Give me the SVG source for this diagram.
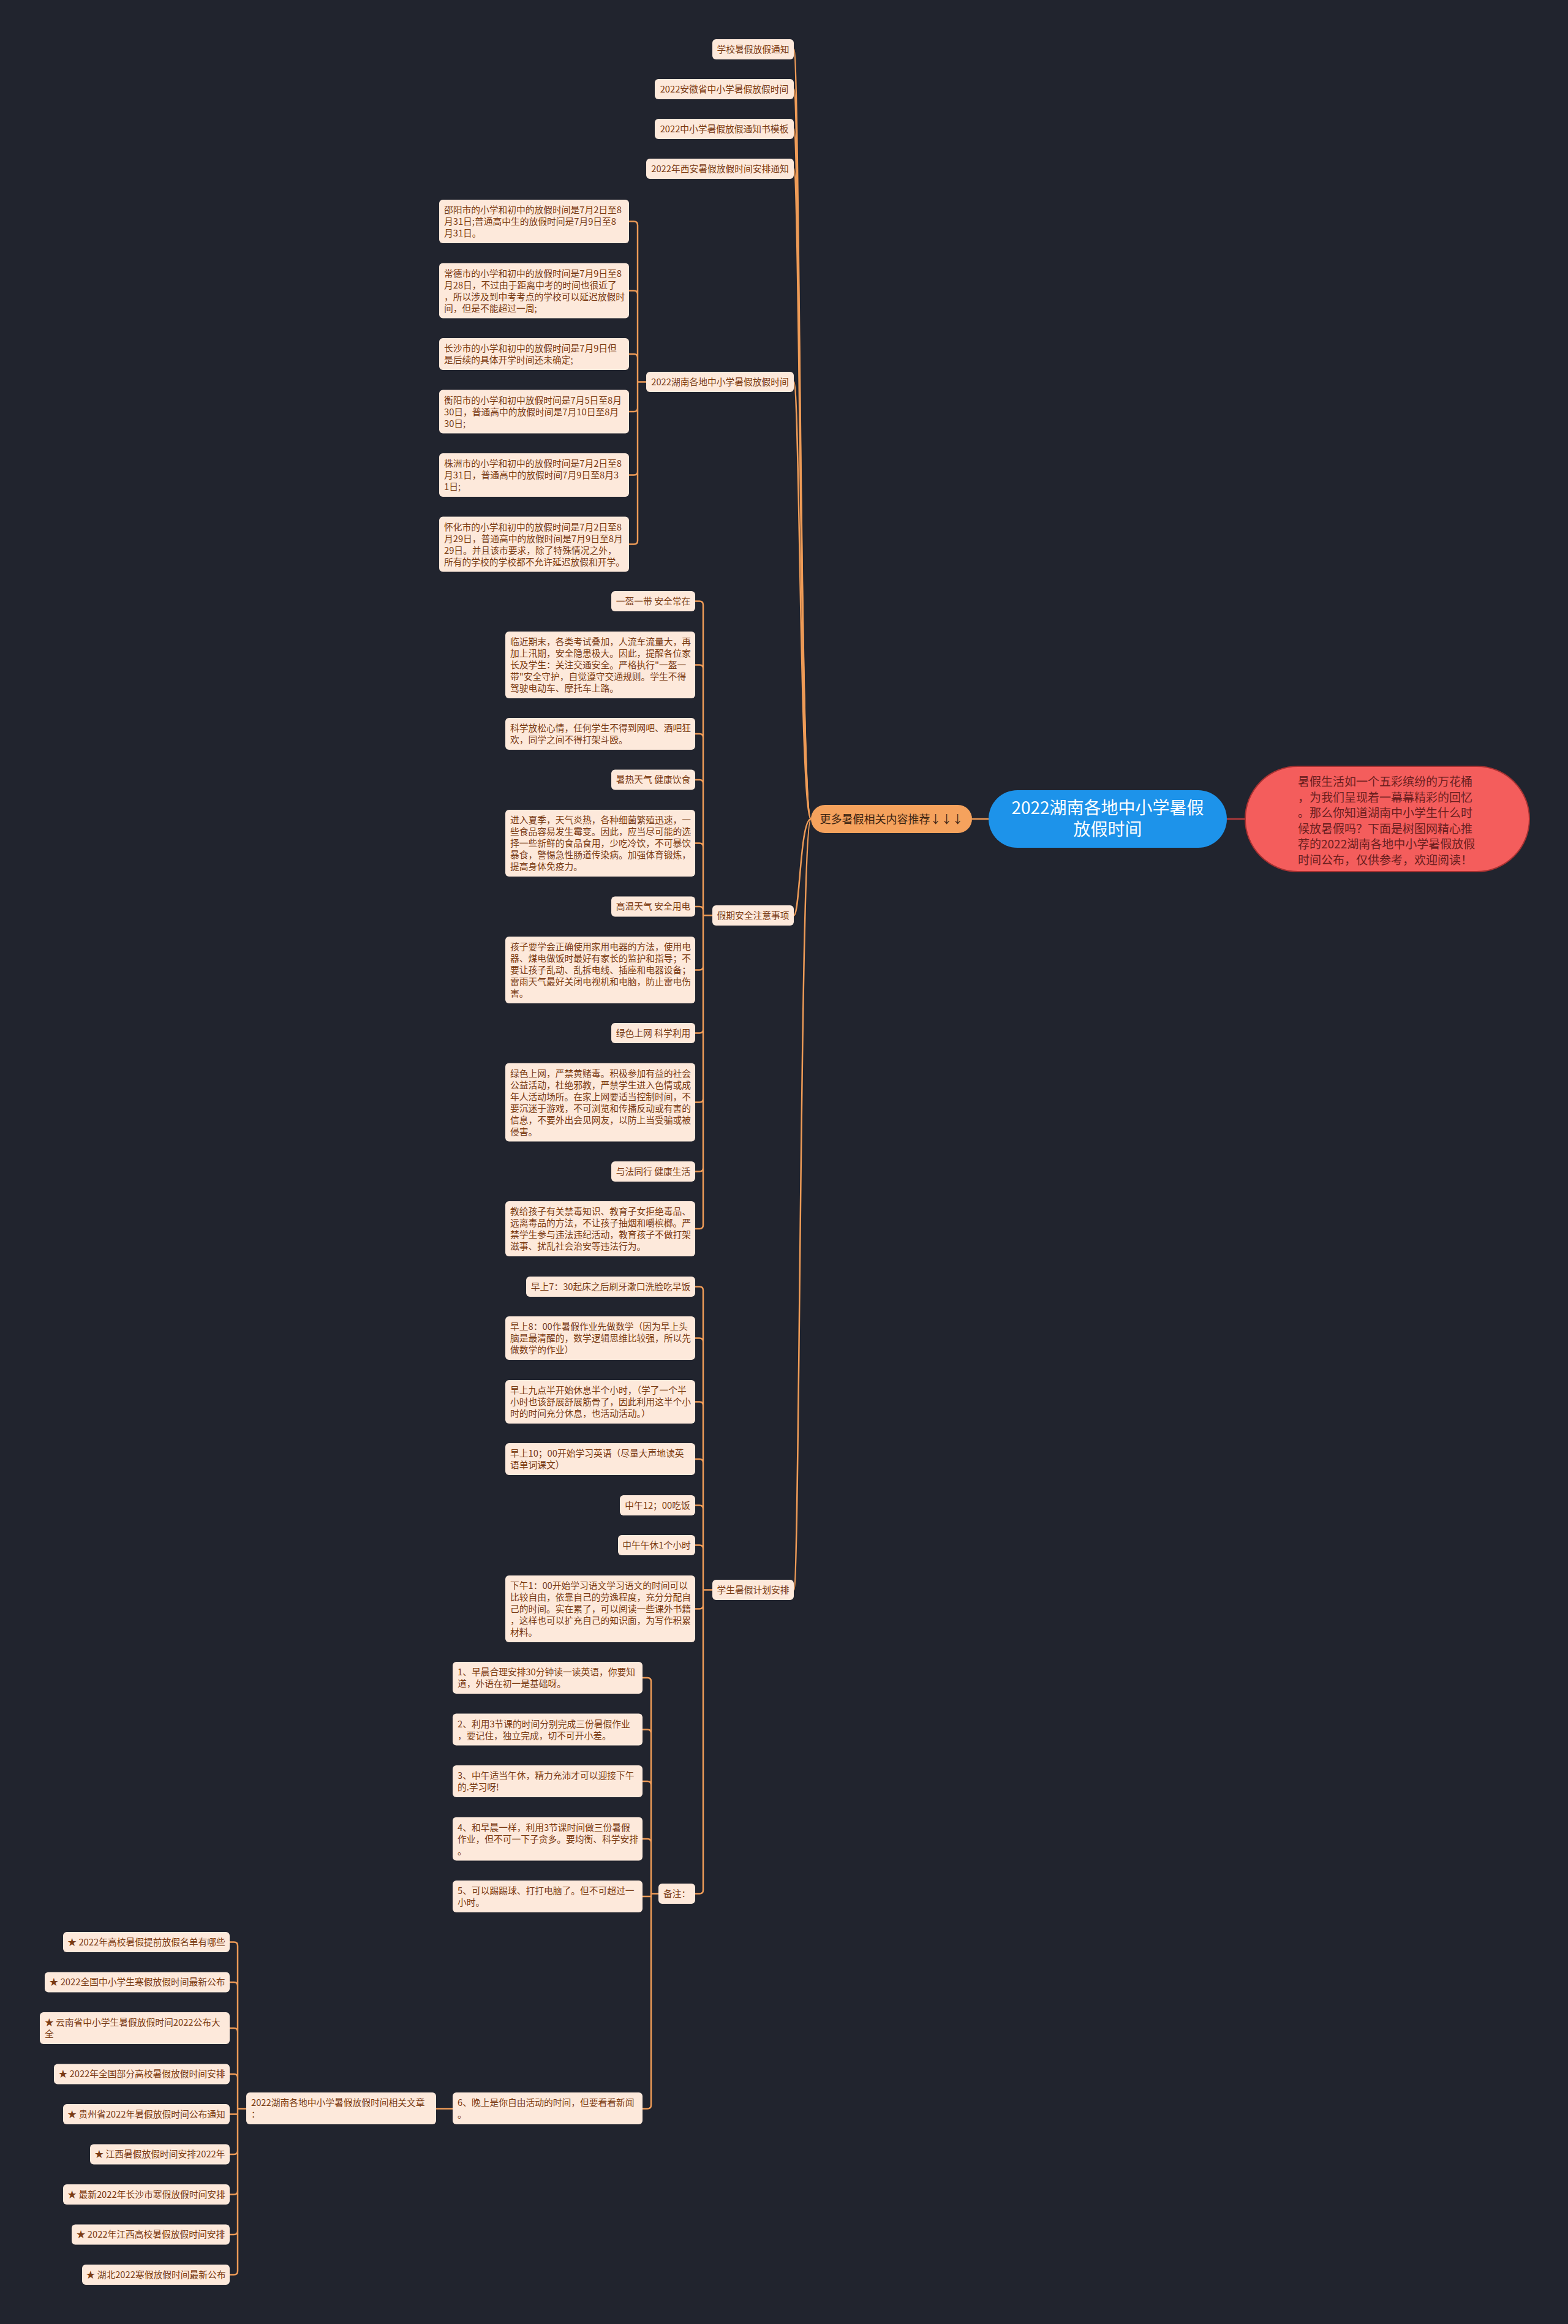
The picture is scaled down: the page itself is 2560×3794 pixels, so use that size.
<svg xmlns="http://www.w3.org/2000/svg" width="2560" height="3794" viewBox="0 0 2560 3794">
<style>
.bg{fill:#21242e}
.n rect{fill:#fde9db}
.t{font-family:"Noto Sans CJK SC","Noto Sans",sans-serif;font-size:14.75px;fill:#7a3a12}
.m{text-anchor:middle}
.c{fill:none;stroke:#ee9b57;stroke-width:2.5}
.cr{fill:none;stroke:#a8383a;stroke-width:3}
</style>
<rect class="bg" x="0" y="0" width="2560" height="3794"/>
<g id="connectors">
<path class="c" d="M1587 1337H1614"/>
<path class="cr" d="M2003 1337H2033"/>
<path class="c" d="M1324 1337C1306 1337 1306 80.5 1296 80.5"/>
<path class="c" d="M1324 1337C1306 1337 1306 145.5 1296 145.5"/>
<path class="c" d="M1324 1337C1306 1337 1306 210.5 1296 210.5"/>
<path class="c" d="M1324 1337C1306 1337 1306 275.5 1296 275.5"/>
<path class="c" d="M1324 1337C1306 1337 1306 623.5 1296 623.5"/>
<path class="c" d="M1324 1337C1306 1337 1306 1494.5 1296 1494.5"/>
<path class="c" d="M1324 1337C1306 1337 1306 2595.5 1296 2595.5"/>
<path class="c" d="M1027 361.5H1035Q1041 361.5 1041 367.5V623.5M1027 474.5H1035Q1041 474.5 1041 480.5V623.5M1027 578H1035Q1041 578 1041 584V623.5M1027 672H1035Q1041 672 1041 666V623.5M1027 775.5H1035Q1041 775.5 1041 769.5V623.5M1027 888.5H1035Q1041 888.5 1041 882.5V623.5M1041 623.5H1055"/>
<path class="c" d="M1135 981.5H1142Q1148 981.5 1148 987.5V1494.5M1135 1085.5H1142Q1148 1085.5 1148 1091.5V1494.5M1135 1198H1142Q1148 1198 1148 1204V1494.5M1135 1273H1142Q1148 1273 1148 1279V1494.5M1135 1376.5H1142Q1148 1376.5 1148 1382.5V1494.5M1135 1480H1142Q1148 1480 1148 1486V1494.5M1135 1583.5H1142Q1148 1583.5 1148 1577.5V1494.5M1135 1686.5H1142Q1148 1686.5 1148 1680.5V1494.5M1135 1799.5H1142Q1148 1799.5 1148 1793.5V1494.5M1135 1912.5H1142Q1148 1912.5 1148 1906.5V1494.5M1135 2006H1142Q1148 2006 1148 2000V1494.5M1148 1494.5H1163"/>
<path class="c" d="M1135 2100.5H1142Q1148 2100.5 1148 2106.5V2595.5M1135 2184.5H1142Q1148 2184.5 1148 2190.5V2595.5M1135 2288.5H1142Q1148 2288.5 1148 2294.5V2595.5M1135 2382H1142Q1148 2382 1148 2388V2595.5M1135 2457.5H1142Q1148 2457.5 1148 2463.5V2595.5M1135 2522.5H1142Q1148 2522.5 1148 2528.5V2595.5M1135 2626.5H1142Q1148 2626.5 1148 2620.5V2595.5M1135 3091.5H1142Q1148 3091.5 1148 3085.5V2595.5M1148 2595.5H1163"/>
<path class="c" d="M1049 2739H1057Q1063 2739 1063 2745V3091.5M1049 2823.5H1057Q1063 2823.5 1063 2829.5V3091.5M1049 2908H1057Q1063 2908 1063 2914V3091.5M1049 3002H1057Q1063 3002 1063 3008V3091.5M1049 3096H1063V3091.5M1049 3442.5H1057Q1063 3442.5 1063 3436.5V3091.5M1063 3091.5H1075"/>
<path class="c" d="M739 3442.5H712"/>
<path class="c" d="M375 3170.5H382Q388 3170.5 388 3176.5V3442.5M375 3236H382Q388 3236 388 3242V3442.5M375 3311H382Q388 3311 388 3317V3442.5M375 3386H382Q388 3386 388 3392V3442.5M375 3451.5H388V3442.5M375 3517H382Q388 3517 388 3511V3442.5M375 3582.5H382Q388 3582.5 388 3576.5V3442.5M375 3648H382Q388 3648 388 3642V3442.5M375 3713.5H382Q388 3713.5 388 3707.5V3442.5M388 3442.5H402"/>
</g>
<g id="root">
<rect x="1614" y="1290" width="389" height="94" rx="47" fill="#1d93ea"/>
<text x="1808.5" y="1329" text-anchor="middle" font-family="Noto Sans CJK SC, Noto Sans, sans-serif" font-size="28" fill="#ffffff">2022湖南各地中小学暑假</text>
<text x="1808.5" y="1364" text-anchor="middle" font-family="Noto Sans CJK SC, Noto Sans, sans-serif" font-size="28" fill="#ffffff">放假时间</text>
</g>
<g id="intro">
<rect x="2033" y="1251" width="464" height="172" rx="86" fill="#f45d5c" stroke="#a83232" stroke-width="2"/>
<text font-family="Noto Sans CJK SC, Noto Sans, sans-serif" font-size="19" fill="#6b1f1f"><tspan x="2119" y="1283">暑假生活如一个五彩缤纷的万花桶</tspan><tspan x="2119" dy="25.6">，为我们呈现着一幕幕精彩的回忆</tspan><tspan x="2119" dy="25.6">。那么你知道湖南中小学生什么时</tspan><tspan x="2119" dy="25.6">候放暑假吗？下面是树图网精心推</tspan><tspan x="2119" dy="25.6">荐的2022湖南各地中小学暑假放假</tspan><tspan x="2119" dy="25.6">时间公布，仅供参考，欢迎阅读！</tspan></text>
</g>
<g id="more">
<rect x="1324" y="1314" width="263" height="46" rx="23" fill="#f5a25d"/>
<text x="1455.5" y="1343.5" text-anchor="middle" font-family="Noto Sans CJK SC, Noto Sans, sans-serif" font-size="18" fill="#3b2412">更多暑假相关内容推荐↓↓↓</text>
</g>
<g id="n-school" class="n"><rect x="1163" y="64" width="133" height="33" rx="6"/><text class="t m" x="1229.5" y="85.5">学校暑假放假通知</text></g>
<g id="n-anhui" class="n"><rect x="1069" y="129" width="227" height="33" rx="6"/><text class="t m" x="1182.5" y="150.5">2022安徽省中小学暑假放假时间</text></g>
<g id="n-template" class="n"><rect x="1069" y="194" width="227" height="33" rx="6"/><text class="t m" x="1182.5" y="215.5">2022中小学暑假放假通知书模板</text></g>
<g id="n-xian" class="n"><rect x="1055" y="259" width="241" height="33" rx="6"/><text class="t m" x="1175.5" y="280.5">2022年西安暑假放假时间安排通知</text></g>
<g id="n-hunan" class="n"><rect x="1055" y="607" width="241" height="33" rx="6"/><text class="t m" x="1175.5" y="628.5">2022湖南各地中小学暑假放假时间</text></g>
<g id="h-shaoyang" class="n"><rect x="717" y="326" width="310" height="71" rx="6"/><text class="t"><tspan x="725" y="348">邵阳市的小学和初中的放假时间是7月2日至8</tspan><tspan x="725" dy="19">月31日;普通高中生的放假时间是7月9日至8</tspan><tspan x="725" dy="19">月31日。</tspan></text></g>
<g id="h-changde" class="n"><rect x="717" y="429.5" width="310" height="90" rx="6"/><text class="t"><tspan x="725" y="451.5">常德市的小学和初中的放假时间是7月9日至8</tspan><tspan x="725" dy="19">月28日，不过由于距离中考的时间也很近了</tspan><tspan x="725" dy="19">，所以涉及到中考考点的学校可以延迟放假时</tspan><tspan x="725" dy="19">间，但是不能超过一周;</tspan></text></g>
<g id="h-changsha" class="n"><rect x="717" y="552" width="310" height="52" rx="6"/><text class="t"><tspan x="725" y="574">长沙市的小学和初中的放假时间是7月9日但</tspan><tspan x="725" dy="19">是后续的具体开学时间还未确定;</tspan></text></g>
<g id="h-hengyang" class="n"><rect x="717" y="636.5" width="310" height="71" rx="6"/><text class="t"><tspan x="725" y="658.5">衡阳市的小学和初中放假时间是7月5日至8月</tspan><tspan x="725" dy="19">30日，普通高中的放假时间是7月10日至8月</tspan><tspan x="725" dy="19">30日;</tspan></text></g>
<g id="h-zhuzhou" class="n"><rect x="717" y="740" width="310" height="71" rx="6"/><text class="t"><tspan x="725" y="762">株洲市的小学和初中的放假时间是7月2日至8</tspan><tspan x="725" dy="19">月31日，普通高中的放假时间7月9日至8月3</tspan><tspan x="725" dy="19">1日;</tspan></text></g>
<g id="h-huaihua" class="n"><rect x="717" y="843.5" width="310" height="90" rx="6"/><text class="t"><tspan x="725" y="865.5">怀化市的小学和初中的放假时间是7月2日至8</tspan><tspan x="725" dy="19">月29日，普通高中的放假时间是7月9日至8月</tspan><tspan x="725" dy="19">29日。并且该市要求，除了特殊情况之外，</tspan><tspan x="725" dy="19">所有的学校的学校都不允许延迟放假和开学。</tspan></text></g>
<g id="n-safety" class="n"><rect x="1163" y="1478" width="133" height="33" rx="6"/><text class="t m" x="1229.5" y="1499.5">假期安全注意事项</text></g>
<g id="s-1" class="n"><rect x="998" y="965" width="137" height="33" rx="6"/><text class="t m" x="1066.5" y="986.5">一盔一带 安全常在</text></g>
<g id="s-1d" class="n"><rect x="825" y="1031" width="310" height="109" rx="6"/><text class="t"><tspan x="833" y="1053">临近期末，各类考试叠加，人流车流量大，再</tspan><tspan x="833" dy="19">加上汛期，安全隐患极大。因此，提醒各位家</tspan><tspan x="833" dy="19">长及学生：关注交通安全。严格执行"一盔一</tspan><tspan x="833" dy="19">带"安全守护，自觉遵守交通规则。学生不得</tspan><tspan x="833" dy="19">驾驶电动车、摩托车上路。</tspan></text></g>
<g id="s-1e" class="n"><rect x="825" y="1172" width="310" height="52" rx="6"/><text class="t"><tspan x="833" y="1194">科学放松心情，任何学生不得到网吧、酒吧狂</tspan><tspan x="833" dy="19">欢，同学之间不得打架斗殴。</tspan></text></g>
<g id="s-2" class="n"><rect x="998" y="1256.5" width="137" height="33" rx="6"/><text class="t m" x="1066.5" y="1278">暑热天气 健康饮食</text></g>
<g id="s-2d" class="n"><rect x="825" y="1322" width="310" height="109" rx="6"/><text class="t"><tspan x="833" y="1344">进入夏季，天气炎热，各种细菌繁殖迅速，一</tspan><tspan x="833" dy="19">些食品容易发生霉变。因此，应当尽可能的选</tspan><tspan x="833" dy="19">择一些新鲜的食品食用，少吃冷饮，不可暴饮</tspan><tspan x="833" dy="19">暴食，警惕急性肠道传染病。加强体育锻炼，</tspan><tspan x="833" dy="19">提高身体免疫力。</tspan></text></g>
<g id="s-3" class="n"><rect x="998" y="1463.5" width="137" height="33" rx="6"/><text class="t m" x="1066.5" y="1485">高温天气 安全用电</text></g>
<g id="s-3d" class="n"><rect x="825" y="1529" width="310" height="109" rx="6"/><text class="t"><tspan x="833" y="1551">孩子要学会正确使用家用电器的方法，使用电</tspan><tspan x="833" dy="19">器、煤电做饭时最好有家长的监护和指导；不</tspan><tspan x="833" dy="19">要让孩子乱动、乱拆电线、插座和电器设备；</tspan><tspan x="833" dy="19">雷雨天气最好关闭电视机和电脑，防止雷电伤</tspan><tspan x="833" dy="19">害。</tspan></text></g>
<g id="s-4" class="n"><rect x="998" y="1670" width="137" height="33" rx="6"/><text class="t m" x="1066.5" y="1691.5">绿色上网 科学利用</text></g>
<g id="s-4d" class="n"><rect x="825" y="1735.5" width="310" height="128" rx="6"/><text class="t"><tspan x="833" y="1757.5">绿色上网，严禁黄赌毒。积极参加有益的社会</tspan><tspan x="833" dy="19">公益活动，杜绝邪教，严禁学生进入色情或成</tspan><tspan x="833" dy="19">年人活动场所。在家上网要适当控制时间，不</tspan><tspan x="833" dy="19">要沉迷于游戏，不可浏览和传播反动或有害的</tspan><tspan x="833" dy="19">信息，不要外出会见网友，以防上当受骗或被</tspan><tspan x="833" dy="19">侵害。</tspan></text></g>
<g id="s-5" class="n"><rect x="998" y="1896" width="137" height="33" rx="6"/><text class="t m" x="1066.5" y="1917.5">与法同行 健康生活</text></g>
<g id="s-5d" class="n"><rect x="825" y="1961" width="310" height="90" rx="6"/><text class="t"><tspan x="833" y="1983">教给孩子有关禁毒知识、教育子女拒绝毒品、</tspan><tspan x="833" dy="19">远离毒品的方法，不让孩子抽烟和嚼槟榔。严</tspan><tspan x="833" dy="19">禁学生参与违法违纪活动，教育孩子不做打架</tspan><tspan x="833" dy="19">滋事、扰乱社会治安等违法行为。</tspan></text></g>
<g id="n-plan" class="n"><rect x="1163" y="2579" width="133" height="33" rx="6"/><text class="t m" x="1229.5" y="2600.5">学生暑假计划安排</text></g>
<g id="p-1" class="n"><rect x="859" y="2084" width="276" height="33" rx="6"/><text class="t m" x="997" y="2105.5">早上7：30起床之后刷牙漱口洗脸吃早饭</text></g>
<g id="p-2" class="n"><rect x="825" y="2149" width="310" height="71" rx="6"/><text class="t"><tspan x="833" y="2171">早上8：00作暑假作业先做数学（因为早上头</tspan><tspan x="833" dy="19">脑是最清醒的，数学逻辑思维比较强，所以先</tspan><tspan x="833" dy="19">做数学的作业）</tspan></text></g>
<g id="p-3" class="n"><rect x="825" y="2253" width="310" height="71" rx="6"/><text class="t"><tspan x="833" y="2275">早上九点半开始休息半个小时，（学了一个半</tspan><tspan x="833" dy="19">小时也该舒展舒展筋骨了，因此利用这半个小</tspan><tspan x="833" dy="19">时的时间充分休息，也活动活动。）</tspan></text></g>
<g id="p-4" class="n"><rect x="825" y="2356" width="310" height="52" rx="6"/><text class="t"><tspan x="833" y="2378">早上10；00开始学习英语（尽量大声地读英</tspan><tspan x="833" dy="19">语单词课文）</tspan></text></g>
<g id="p-5" class="n"><rect x="1012" y="2441" width="123" height="33" rx="6"/><text class="t m" x="1073.5" y="2462.5">中午12；00吃饭</text></g>
<g id="p-6" class="n"><rect x="1009" y="2506" width="126" height="33" rx="6"/><text class="t m" x="1072" y="2527.5">中午午休1个小时</text></g>
<g id="p-7" class="n"><rect x="825" y="2572" width="310" height="109" rx="6"/><text class="t"><tspan x="833" y="2594">下午1：00开始学习语文学习语文的时间可以</tspan><tspan x="833" dy="19">比较自由，依靠自己的劳逸程度，充分分配自</tspan><tspan x="833" dy="19">己的时间。实在累了，可以阅读一些课外书籍</tspan><tspan x="833" dy="19">，这样也可以扩充自己的知识面，为写作积累</tspan><tspan x="833" dy="19">材料。</tspan></text></g>
<g id="n-note" class="n"><rect x="1075" y="3075" width="60" height="33" rx="6"/><text class="t m" x="1105" y="3096.5">备注：</text></g>
<g id="r-1" class="n"><rect x="739" y="2713" width="310" height="52" rx="6"/><text class="t"><tspan x="747" y="2735">1、早晨合理安排30分钟读一读英语，你要知</tspan><tspan x="747" dy="19">道，外语在初一是基础呀。</tspan></text></g>
<g id="r-2" class="n"><rect x="739" y="2797.5" width="310" height="52" rx="6"/><text class="t"><tspan x="747" y="2819.5">2、利用3节课的时间分别完成三份暑假作业</tspan><tspan x="747" dy="19">，要记住，独立完成，切不可开小差。</tspan></text></g>
<g id="r-3" class="n"><rect x="739" y="2882" width="310" height="52" rx="6"/><text class="t"><tspan x="747" y="2904">3、中午适当午休，精力充沛才可以迎接下午</tspan><tspan x="747" dy="19">的.学习呀!</tspan></text></g>
<g id="r-4" class="n"><rect x="739" y="2966.5" width="310" height="71" rx="6"/><text class="t"><tspan x="747" y="2988.5">4、和早晨一样，利用3节课时间做三份暑假</tspan><tspan x="747" dy="19">作业，但不可一下子贪多。要均衡、科学安排</tspan><tspan x="747" dy="19">。</tspan></text></g>
<g id="r-5" class="n"><rect x="739" y="3070" width="310" height="52" rx="6"/><text class="t"><tspan x="747" y="3092">5、可以踢踢球、打打电脑了。但不可超过一</tspan><tspan x="747" dy="19">小时。</tspan></text></g>
<g id="r-6" class="n"><rect x="739" y="3416" width="310" height="52" rx="6"/><text class="t"><tspan x="747" y="3438">6、晚上是你自由活动的时间，但要看看新闻</tspan><tspan x="747" dy="19">。</tspan></text></g>
<g id="n-related" class="n"><rect x="402" y="3416" width="310" height="52" rx="6"/><text class="t"><tspan x="410" y="3438">2022湖南各地中小学暑假放假时间相关文章</tspan><tspan x="410" dy="19">：</tspan></text></g>
<g id="a-1" class="n"><rect x="103" y="3154" width="272" height="33" rx="6"/><text class="t m" x="239" y="3175.5">★ 2022年高校暑假提前放假名单有哪些</text></g>
<g id="a-2" class="n"><rect x="73" y="3219.5" width="302" height="33" rx="6"/><text class="t m" x="224" y="3241">★ 2022全国中小学生寒假放假时间最新公布</text></g>
<g id="a-3" class="n"><rect x="65" y="3285" width="310" height="52" rx="6"/><text class="t"><tspan x="73" y="3307">★ 云南省中小学生暑假放假时间2022公布大</tspan><tspan x="73" dy="19">全</tspan></text></g>
<g id="a-4" class="n"><rect x="88" y="3369.5" width="287" height="33" rx="6"/><text class="t m" x="231.5" y="3391">★ 2022年全国部分高校暑假放假时间安排</text></g>
<g id="a-5" class="n"><rect x="103" y="3435" width="272" height="33" rx="6"/><text class="t m" x="239" y="3456.5">★ 贵州省2022年暑假放假时间公布通知</text></g>
<g id="a-6" class="n"><rect x="147" y="3500.5" width="228" height="33" rx="6"/><text class="t m" x="261" y="3522">★ 江西暑假放假时间安排2022年</text></g>
<g id="a-7" class="n"><rect x="103" y="3566" width="272" height="33" rx="6"/><text class="t m" x="239" y="3587.5">★ 最新2022年长沙市寒假放假时间安排</text></g>
<g id="a-8" class="n"><rect x="117" y="3631.5" width="258" height="33" rx="6"/><text class="t m" x="246" y="3653">★ 2022年江西高校暑假放假时间安排</text></g>
<g id="a-9" class="n"><rect x="134" y="3697" width="241" height="33" rx="6"/><text class="t m" x="254.5" y="3718.5">★ 湖北2022寒假放假时间最新公布</text></g>
</svg>
